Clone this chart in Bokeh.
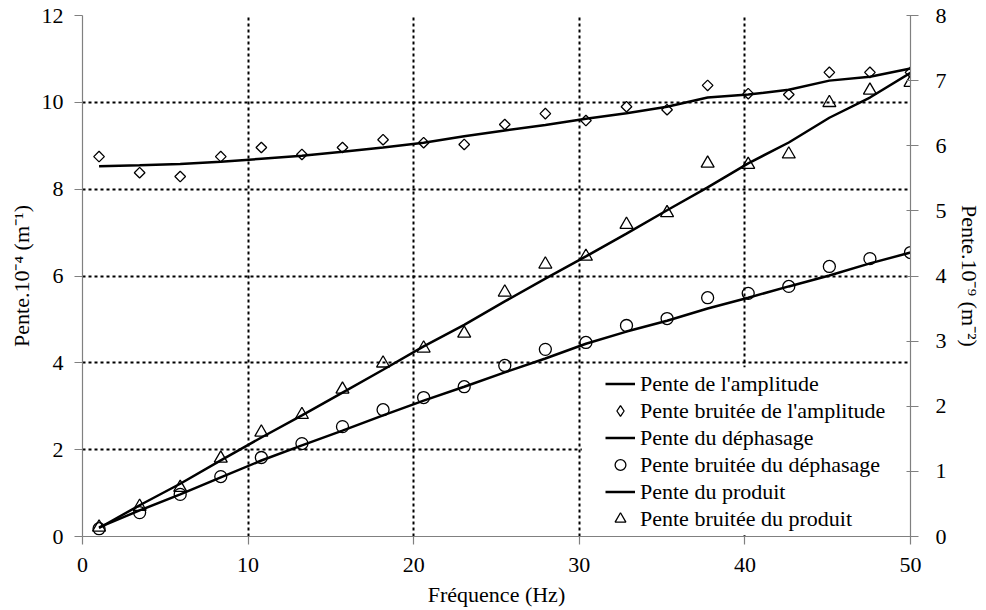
import numpy as np
from bokeh.plotting import figure
from bokeh.models import (Range1d, LinearAxis, FixedTicker, Legend, LegendItem,
                          BoxAnnotation)
from bokeh.embed import file_html
from bokeh.resources import INLINE

# ---------------- data ----------------
freq = [1.0, 3.45, 5.9, 8.35, 10.8, 13.25, 15.7, 18.15, 20.6, 23.05, 25.5,
        27.95, 30.4, 32.85, 35.3, 37.75, 40.2, 42.65, 45.1, 47.55, 50.0]

amp_line = [8.53, 8.55, 8.58, 8.63, 8.70, 8.77, 8.86, 8.96, 9.07, 9.22, 9.35,
            9.48, 9.62, 9.75, 9.90, 10.11, 10.18, 10.29, 10.50, 10.59, 10.78]
amp_noisy = [8.75, 8.38, 8.29, 8.75, 8.96, 8.80, 8.96, 9.14, 9.07, 9.03, 9.49,
             9.74, 9.58, 9.90, 9.83, 10.39, 10.20, 10.18, 10.69, 10.69, 10.69]

deph_line = [0.21, 0.60, 0.97, 1.36, 1.75, 2.10, 2.44, 2.79, 3.13, 3.45, 3.78,
             4.10, 4.44, 4.72, 4.97, 5.25, 5.50, 5.76, 6.01, 6.29, 6.54]
deph_noisy = [0.18, 0.55, 0.97, 1.38, 1.82, 2.14, 2.53, 2.92, 3.20, 3.45, 3.94,
              4.31, 4.47, 4.86, 5.02, 5.50, 5.60, 5.76, 6.22, 6.40, 6.54]

# product series, read on the right axis
prod_line = [0.13, 0.48, 0.81, 1.17, 1.52, 1.86, 2.21, 2.56, 2.92, 3.25, 3.61,
             3.96, 4.30, 4.65, 5.01, 5.36, 5.73, 6.05, 6.43, 6.74, 7.12]
prod_noisy = [0.14, 0.46, 0.75, 1.20, 1.60, 1.87, 2.26, 2.66, 2.89, 3.12, 3.75,
              4.18, 4.30, 4.79, 4.97, 5.73, 5.71, 5.87, 6.66, 6.85, 6.97]

x_ticks = [0, 10, 20, 30, 40, 50]
yl_ticks = [0, 2, 4, 6, 8, 10, 12]
yr_ticks = [0, 1, 2, 3, 4, 5, 6, 7, 8]

x_label = "Fréquence (Hz)"
yl_label = "Pente.10⁻⁴ (m⁻¹)"
yr_label = "Pente.10⁻⁹ (m⁻²)"
legend_labels = ["Pente de l'amplitude", "Pente bruitée de l'amplitude",
                 "Pente du déphasage", "Pente bruitée du déphasage",
                 "Pente du produit", "Pente bruitée du produit"]

FONT = "Liberation Serif"
FS = "22px"
AX_GRAY = "#808080"

p = figure(width=984, height=610, output_backend="svg", toolbar_location=None,
           tools="", x_range=Range1d(0, 50), y_range=Range1d(0, 12),
           min_border_left=82, min_border_right=72, min_border_top=15,
           min_border_bottom=74, outline_line_color=None,
           background_fill_color="white", border_fill_color="white")
p.extra_y_ranges = {"right": Range1d(0, 8)}


def style_axis(ax, ticks, tin, tout, standoff, label, label_standoff):
    ax.ticker = FixedTicker(ticks=ticks, minor_ticks=[])
    ax.axis_line_color = AX_GRAY
    ax.axis_line_width = 1.2
    ax.major_tick_line_color = AX_GRAY
    ax.major_tick_line_width = 1.2
    ax.major_tick_in = tin
    ax.major_tick_out = tout
    ax.minor_tick_line_color = None
    ax.major_label_text_font = FONT
    ax.major_label_text_font_size = FS
    ax.major_label_text_color = "black"
    ax.major_label_standoff = standoff
    ax.axis_label = label
    ax.axis_label_text_font = FONT
    ax.axis_label_text_font_size = FS
    ax.axis_label_text_font_style = "normal"
    ax.axis_label_text_color = "black"
    ax.axis_label_standoff = label_standoff


style_axis(p.xaxis[0], x_ticks, 0, 8, 13, x_label, 7)
style_axis(p.yaxis[0], yl_ticks, 0, 8, 11, yl_label, 5)
ax_r = LinearAxis(y_range_name="right")
style_axis(ax_r, yr_ticks, 4, 8, 17, yr_label, 7)
p.add_layout(ax_r, "right")

# grid
p.xgrid.ticker = FixedTicker(ticks=[t for t in x_ticks if t > 0])
p.ygrid.ticker = FixedTicker(ticks=[t for t in yl_ticks if t > 0])
for g in (p.xgrid[0], p.ygrid[0]):
    g.grid_line_color = "black"
    g.grid_line_dash = "3 3"
    g.grid_line_width = 2

# white box behind legend (hides the grid there)
box = BoxAnnotation(left=30.15, right=49.9, bottom=0.03, top=3.9,
                    fill_color="white", fill_alpha=1.0, line_alpha=0,
                    level="underlay")
p.add_layout(box)

# glyphs
r_amp_l = p.line(freq, amp_line, line_color="black", line_width=2.5)
r_amp_n = p.scatter(freq, amp_noisy, marker="square", angle=np.pi / 4, size=7.5,
                    line_color="black", line_width=1.3, fill_color=None)
r_deph_l = p.line(freq, deph_line, line_color="black", line_width=2.5)
r_deph_n = p.scatter(freq, deph_noisy, marker="circle", size=12,
                     line_color="black", line_width=1.3, fill_color=None)
r_prod_l = p.line(freq, prod_line, line_color="black", line_width=2.5,
                  y_range_name="right")
r_prod_n = p.scatter(freq, prod_noisy, marker="triangle", size=13,
                     line_color="black", line_width=1.3, fill_color=None,
                     y_range_name="right")
# legend proxy for the diamond symbol (legend markers are never rotated)
r_amp_proxy = p.scatter([np.nan], [np.nan], marker="diamond",
                        line_color="black", line_width=1.3, fill_color=None)

items = [LegendItem(label=lab, renderers=[r]) for lab, r in
         zip(legend_labels, [r_amp_l, r_amp_proxy, r_deph_l, r_deph_n,
                             r_prod_l, r_prod_n])]
legend = Legend(items=items, location=(523, 4), padding=0, margin=0,
                spacing=0, glyph_width=30, glyph_height=27, label_height=27,
                label_standoff=5, label_text_font=FONT, label_text_font_size=FS,
                label_text_color="black", border_line_alpha=0,
                background_fill_alpha=0)
p.add_layout(legend, "center")

open("out.html", "w").write(file_html(p, INLINE))
